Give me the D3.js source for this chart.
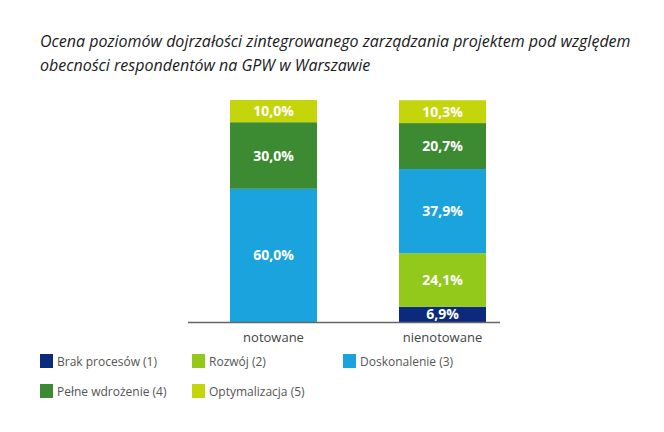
<!DOCTYPE html>
<html><head><meta charset="utf-8">
<script src="https://cdn.jsdelivr.net/npm/d3@7"></script>
<style>body{margin:0;background:#fff}svg{display:block}</style>
</head><body>
<script>
const titleLines = ["Ocena poziomów dojrzałości zintegrowanego zarządzania projektem pod względem", "obecności respondentów na GPW w Warszawie"];
const categories = ["notowane", "nienotowane"];
const seriesNames = ["Brak procesów (1)", "Rozwój (2)", "Doskonalenie (3)", "Pełne wdrożenie (4)", "Optymalizacja (5)"];
const seriesColors = ["#0b2a7c", "#93c91a", "#1ba3de", "#3c8a32", "#c5d50c"];
const brak = [0, 6.9];
const rozwoj = [0, 24.1];
const doskonalenie = [60.0, 37.9];
const pelne = [30.0, 20.7];
const optymalizacja = [10.0, 10.3];
const valueLabels = [["", "6,9%"], ["", "24,1%"], ["60,0%", "37,9%"], ["30,0%", "20,7%"], ["10,0%", "10,3%"]];

const W = 664, H = 432;
const svg = d3.select("body").append("svg").attr("width", W).attr("height", H);

svg.append("g").selectAll("text").data(titleLines).join("text")
  .attr("x", 40).attr("y", (d, i) => 47 + i * 24)
  .attr("font-family", "Open Sans, sans-serif").attr("font-style", "italic")
  .attr("font-size", 16).attr("fill", "#1a1a1a").text(d => d);

const seriesVals = [brak, rozwoj, doskonalenie, pelne, optymalizacja];
const rows = categories.map((c, i) => {
  const o = {cat: c};
  seriesNames.forEach((s, j) => o[s] = seriesVals[j][i]);
  return o;
});
const stack = d3.stack().keys(seriesNames)(rows);

const x = d3.scaleBand().domain(categories).range([188, 528]).paddingInner(0.485).paddingOuter(0.2485);
const y = d3.scaleLinear().domain([0, 100]).range([322, 100]);

stack.forEach((layer, j) => {
  const g = svg.append("g");
  g.selectAll("rect").data(layer).join("rect")
    .attr("x", d => x(d.data.cat)).attr("width", x.bandwidth())
    .attr("y", d => y(d[1])).attr("height", d => y(d[0]) - y(d[1]))
    .attr("fill", seriesColors[j]);
  g.selectAll("text").data(layer).join("text")
    .filter((d, i) => valueLabels[j][i] !== "")
    .attr("x", d => x(d.data.cat) + x.bandwidth() / 2)
    .attr("y", d => (y(d[0]) + y(d[1])) / 2 + 5)
    .attr("text-anchor", "middle")
    .attr("font-family", "Open Sans, sans-serif").attr("font-weight", "bold")
    .attr("font-size", 14).attr("fill", "#fff")
    .text((d, i) => valueLabels[j][categories.indexOf(d.data.cat)]);
});

svg.append("line").attr("x1", 188).attr("x2", 500).attr("y1", 322.5).attr("y2", 322.5)
  .attr("stroke", "#666").attr("stroke-width", 1.5);

const xAxis = d3.axisBottom(x).tickSize(0).tickPadding(10);
const ax = svg.append("g").attr("transform", "translate(0,323)").call(xAxis);
ax.select(".domain").remove();
ax.selectAll("text").attr("font-family", "Open Sans, sans-serif").attr("font-size", 13).attr("fill", "#444");

const legendPos = [[40, 354], [192, 354], [343, 354], [40, 384], [192, 384]];
const lg = svg.append("g").selectAll("g").data(seriesNames).join("g")
  .attr("transform", (d, i) => `translate(${legendPos[i][0]},${legendPos[i][1]})`);
lg.append("rect").attr("width", 13).attr("height", 14).attr("fill", (d, i) => seriesColors[i]);
lg.append("text").attr("x", 17).attr("y", 11.5)
  .attr("font-family", "Open Sans, sans-serif").attr("font-size", 12).attr("fill", "#555")
  .text(d => d);
</script>
</body></html>
